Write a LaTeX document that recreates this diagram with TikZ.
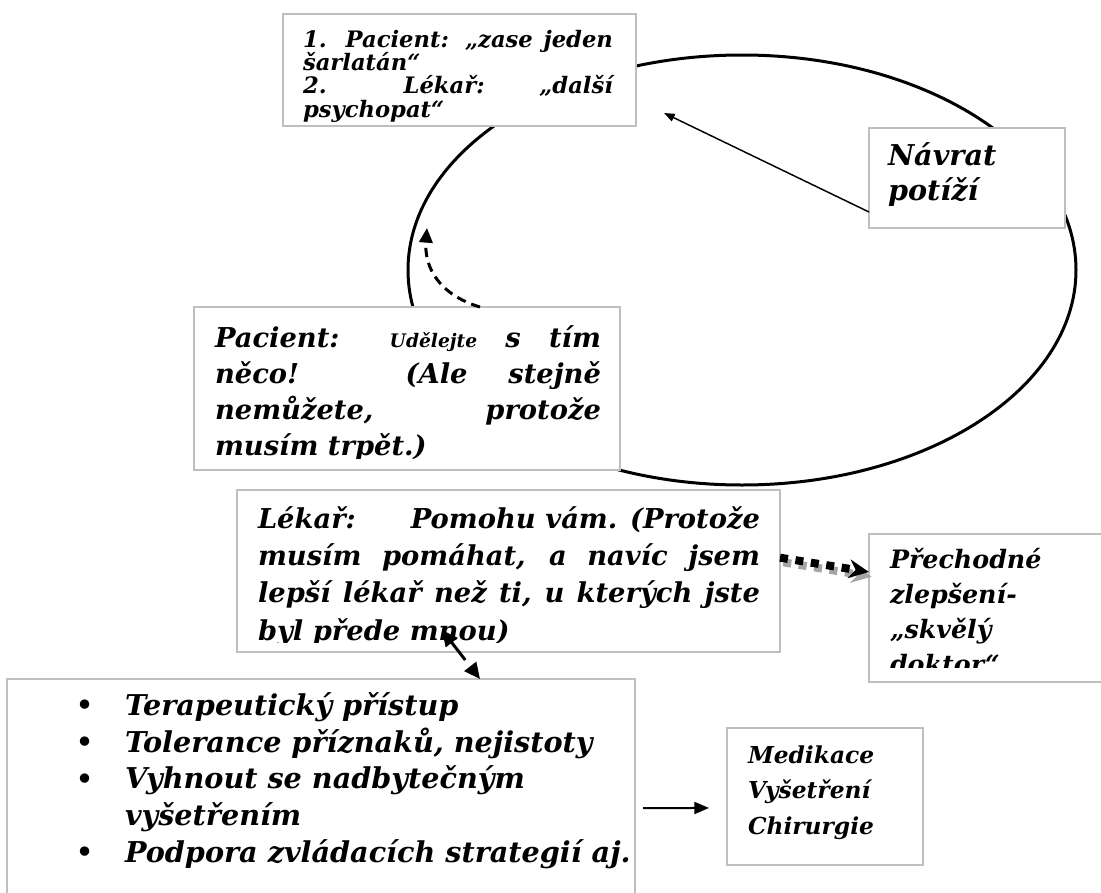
\documentclass[tikz,border=0pt]{standalone}
\usepackage{fontspec}
\setmainfont{DejaVu Serif}
\usetikzlibrary{arrows.meta,shapes.geometric}
\definecolor{boxgray}{RGB}{191,191,191}
\definecolor{shadowgray}{RGB}{165,165,165}
\newcommand{\jl}[2]{\makebox[#1][s]{#2}}
\newcommand{\fsz}[2]{\fontsize{#1}{#2}\selectfont\bfseries\itshape}
\newcommand{\bul}{\makebox[36.75pt][l]{\raisebox{0.5pt}{\fontsize{20pt}{20pt}\selectfont\bfseries\upshape •}}}
\tikzset{
  box/.style={draw=boxgray, line width=1.5pt, fill=white, inner sep=0pt, outer sep=0pt, anchor=north west},
  txt/.style={anchor=base west, inner sep=0pt, outer sep=0pt, align=left},
  conn/.style={line width=1.1pt, -{Triangle[length=8pt,width=6pt]}},
}
\begin{document}
\begin{tikzpicture}[x=0.75pt,y=-0.75pt]
\useasboundingbox (0,0) rectangle (1101,893);
% cycle ellipse
\node[draw, ellipse, line width=2.25pt, inner sep=0pt, outer sep=0pt,
      minimum width=501pt, minimum height=322.5pt] (cycle) at (742,270) {};

% top box
\node[box, minimum width=264.75pt, minimum height=84pt] (topbox) at (283,14) {};
\node[txt, font=\fsz{17pt}{17.5pt}] (toptxt) at (303,117)
  {\jl{232.5pt}{1. Pacient: „zase jeden}\\
   šarlatán“\\
   \jl{232.5pt}{2. Lékař: „další}\\
   psychopat“};

% Navrat box
\node[box, minimum width=147pt, minimum height=75pt] (navrat) at (869,128) {};
\node[txt, font=\fsz{21.5pt}{26.25pt}] (navrattxt) at (888,200) {Návrat\\potíží};

% Pacient box
\node[box, minimum width=319.5pt, minimum height=122.25pt] (pacient) at (194,307) {};
\begin{scope}
\clip (194,307) rectangle (620,458);
\node[txt, font=\fsz{20.5pt}{27pt}] (pacienttxt) at (215,455)
  {\jl{289.5pt}{Pacient: {\fontsize{14pt}{14pt}\selectfont Udělejte} s tím}\\
   \jl{289.5pt}{něco! (Ale stejně}\\
   \jl{289.5pt}{nemůžete, protože}\\
   musím trpět.)};
\end{scope}

% Lekar box
\node[box, minimum width=407.25pt, minimum height=121.5pt] (lekar) at (237,490) {};
\begin{scope}
\clip (237,490) rectangle (780,642);
\node[txt, font=\fsz{20.5pt}{28pt}] (lekartxt) at (258,640)
  {\jl{376.5pt}{Lékař:\hfill Pomohu vám. (Protože}\\
   \jl{376.5pt}{musím pomáhat, a navíc jsem}\\
   \jl{376.5pt}{lepší lékař než ti, u kterých jste}\\
   byl přede mnou)};
\end{scope}

% Prechodne box
\node[box, minimum width=184.5pt, minimum height=111pt] (prechod) at (869,534) {};
\begin{scope}
\clip (869,534) rectangle (1110,667);
\node[txt, font=\fsz{19pt}{26.25pt}] (prechodtxt) at (890,673)
  {Přechodné\\zlepšení-\\„skvělý\\doktor“};
\end{scope}

% bullets box
\node[box, minimum width=471pt, minimum height=170pt] (bullets) at (7,679) {};
\node[txt, font=\fsz{21.5pt}{27.5pt}] (bullettxt) at (76,862)
  {\bul Terapeutický přístup\\
   \bul Tolerance příznaků, nejistoty\\
   \bul Vyhnout se nadbytečným\\
   \hspace*{36.75pt}vyšetřením\\
   \bul Podpora zvládacích strategií aj.};

% Medikace box
\node[box, minimum width=147pt, minimum height=102.75pt] (medik) at (727,728) {};
\node[txt, font=\fsz{17.5pt}{26.6pt}] (mediktxt) at (748,834)
  {Medikace\\Vyšetření\\Chirurgie};

% connectors
\coordinate (toptip) at (664,113);
\draw[conn] ([yshift=12pt]navrat.south west) -- (toptip);

\coordinate (dashtip) at (427,228);
\draw[line width=2.25pt, dash pattern=on 7pt off 4.5pt, -{Triangle[length=11pt,width=10pt]}]
  ([xshift=54.75pt]pacient.north) .. controls (440,295) and (424,268) .. (dashtip);

\draw[shadowgray, line width=6pt, dash pattern=on 6pt off 5.7pt, -{Stealth[length=15pt,width=14pt]}]
  ([xshift=2.5pt,yshift=6.5pt]lekar.east) -- ([xshift=2pt,yshift=23.5pt]prechod.west);
\draw[line width=6pt, dash pattern=on 6pt off 5.7pt, -{Stealth[length=15pt,width=14pt]}]
  ([yshift=10pt]lekar.east) -- ([yshift=27pt]prechod.west);

\coordinate (dbltip) at (442,630);
\draw[line width=2.25pt, dash pattern=on 17pt off 8pt,
      {Triangle[length=12pt,width=11pt]}-{Triangle[length=12pt,width=11pt]}]
  (dbltip) -- ([xshift=119.25pt]bullets.north);

\draw[line width=1.5pt, -{Triangle[length=11pt,width=9pt]}]
  ([xshift=6pt,yshift=-11.8pt]bullets.east) -- ([xshift=-13.5pt,yshift=-8.6pt]medik.west);
\end{tikzpicture}
\end{document}
